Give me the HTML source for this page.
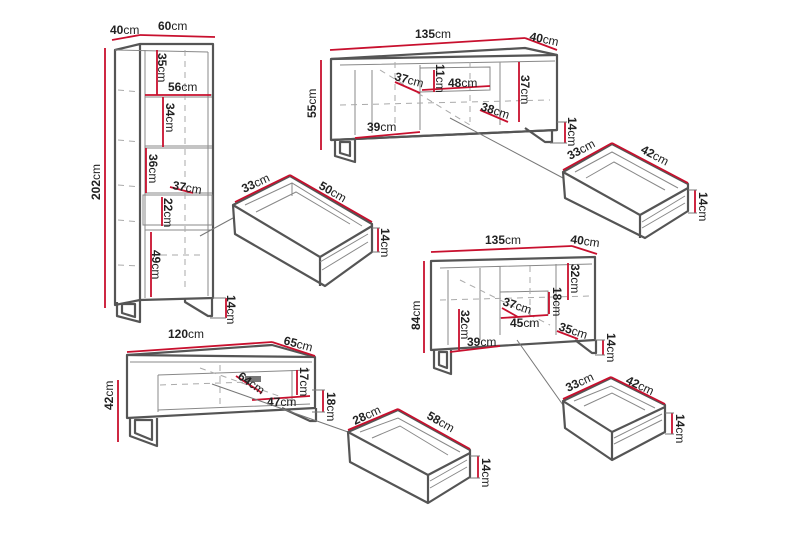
<!DOCTYPE html>
<html><head><meta charset="utf-8"><style>
html,body{margin:0;padding:0;background:#fff;}
svg{display:block}
text{font-family:"Liberation Sans",sans-serif;font-size:12px;fill:#222}
.b{font-weight:bold}
.o{fill:none;stroke:#555;stroke-width:2.2;stroke-linejoin:round}
.t{fill:none;stroke:#888;stroke-width:1}
.d{fill:none;stroke:#aaa;stroke-width:1;stroke-dasharray:6 5}
.r{fill:none;stroke:#c8102e;stroke-width:1.8}
.g{fill:none;stroke:#777;stroke-width:1}
</style></head><body>
<svg width="800" height="533" viewBox="0 0 800 533">
<!-- BOOKCASE -->
<polygon class="o" points="115,50 140,44 213,44 213,298 140,300 115,305"/>
<line class="o" x1="140" y1="44" x2="140" y2="300"/>
<line class="t" x1="115" y1="50" x2="208" y2="52"/>
<line class="t" x1="145" y1="50" x2="145" y2="298"/>
<line class="t" x1="208" y1="52" x2="208" y2="296"/>
<line class="t" x1="145" y1="95" x2="212" y2="95"/><line class="t" x1="145" y1="97" x2="212" y2="97"/>
<line class="t" x1="145" y1="146" x2="212" y2="146"/><line class="t" x1="145" y1="148" x2="212" y2="148"/>
<line class="t" x1="145" y1="193" x2="212" y2="193"/><line class="t" x1="145" y1="195" x2="212" y2="195"/>
<rect class="t" x="143" y="195" width="69" height="30"/>
<line class="t" x1="145" y1="230" x2="212" y2="230"/>
<line class="d" x1="118" y1="90" x2="140" y2="92"/><line class="d" x1="118" y1="140" x2="140" y2="142"/>
<line class="d" x1="118" y1="185" x2="140" y2="187"/><line class="d" x1="118" y1="220" x2="140" y2="222"/>
<line class="d" x1="118" y1="265" x2="140" y2="266"/><line class="d" x1="150" y1="255" x2="205" y2="255"/>
<line class="d" x1="185" y1="50" x2="185" y2="290"/>
<path class="o" d="M117,302 L117,316 L140,322 L140,300 M122,304 L122,313 L135,317 L135,304 Z"/>
<path class="o" d="M185,298 L185,302 L208,316 L212,316 L212,298"/>
<line class="r" x1="112" y1="40" x2="140" y2="35"/><line class="r" x1="140" y1="35" x2="215" y2="37"/>
<line class="r" x1="105" y1="48" x2="105" y2="308"/>
<line class="r" x1="157" y1="50" x2="157" y2="95"/>
<line class="r" x1="145" y1="95" x2="211" y2="95"/>
<line class="r" x1="163" y1="97" x2="163" y2="147"/>
<line class="r" x1="146" y1="148" x2="146" y2="193"/>
<line class="r" x1="170" y1="187" x2="193" y2="193"/>
<line class="r" x1="162" y1="197" x2="162" y2="226"/>
<line class="r" x1="151" y1="232" x2="151" y2="297"/>
<line class="r" x1="226" y1="298" x2="226" y2="318"/><line class="g" x1="213" y1="298" x2="226" y2="298"/><line class="g" x1="210" y1="318" x2="226" y2="318"/>
<text x="110" y="34"><tspan class="b">40</tspan>cm</text>
<text x="158" y="30"><tspan class="b">60</tspan>cm</text>
<text x="168" y="91"><tspan class="b">56</tspan>cm</text>
<text x="172" y="189" transform="rotate(10 172 189)"><tspan class="b">37</tspan>cm</text>
<text transform="translate(158,53) rotate(90)"><tspan class="b">35</tspan>cm</text>
<text transform="translate(166,103) rotate(90)"><tspan class="b">34</tspan>cm</text>
<text transform="translate(149,154) rotate(90)"><tspan class="b">36</tspan>cm</text>
<text transform="translate(164,198) rotate(90)"><tspan class="b">22</tspan>cm</text>
<text transform="translate(152,250) rotate(90)"><tspan class="b">49</tspan>cm</text>
<text transform="translate(227,295) rotate(90)"><tspan class="b">14</tspan>cm</text>
<text transform="translate(100,200) rotate(-90)"><tspan class="b">202</tspan>cm</text>
<line class="g" x1="200" y1="236" x2="233" y2="218"/>

<!-- DRAWER 1 -->
<polygon class="o" points="233,205 290,176 372,224 372,252 325,286 235,234"/>
<path class="o" d="M233,205 L320,257 L320,286 M320,257 L372,226"/>
<path class="t" d="M245,205 L292,183 L362,226 M292,183 L292,196 M256,212 L296,192 L350,224 M320,262 L368,234 M322,270 L368,242"/>
<line class="r" x1="235" y1="202" x2="290" y2="175"/><line class="r" x1="290" y1="175" x2="372" y2="222"/>
<line class="r" x1="378" y1="228" x2="378" y2="252"/><line class="g" x1="372" y1="228" x2="380" y2="228"/><line class="g" x1="372" y1="252" x2="380" y2="252"/>
<text x="244" y="193" transform="rotate(-25 244 193)"><tspan class="b">33</tspan>cm</text>
<text x="318" y="188" transform="rotate(30 318 188)"><tspan class="b">50</tspan>cm</text>
<text transform="translate(381,228) rotate(90)"><tspan class="b">14</tspan>cm</text>

<!-- SIDEBOARD 1 -->
<polygon class="o" points="331,59 525,48 557,55 557,130 331,140"/>
<line class="o" x1="331" y1="59" x2="557" y2="55"/>
<path class="t" d="M340,65 L555,61 M355,70 L355,135 M420,65 L420,130 M500,62 L500,125 M372,70 L372,133 M420,68 L490,67 L490,90 L420,92 Z"/>
<path class="d" d="M340,105 L550,100 M380,70 L470,125 M470,62 L470,122 M395,62 L395,130"/>
<path class="o" d="M335,140 L335,156 L355,162 L355,140 M340,142 L340,153 L350,156 L350,142 Z"/>
<path class="o" d="M525,128 L545,142 L552,142 L552,130"/>
<line class="o" x1="331" y1="140" x2="557" y2="130"/>
<line class="r" x1="330" y1="50" x2="525" y2="38"/><line class="r" x1="525" y1="38" x2="557" y2="50"/>
<line class="r" x1="321" y1="60" x2="321" y2="150"/>
<line class="r" x1="395" y1="82" x2="420" y2="93"/>
<line class="r" x1="434" y1="70" x2="434" y2="92"/>
<line class="r" x1="422" y1="90" x2="490" y2="86"/>
<line class="r" x1="519" y1="62" x2="519" y2="122"/>
<line class="r" x1="480" y1="110" x2="508" y2="122"/>
<line class="r" x1="355" y1="138" x2="420" y2="132"/>
<line class="r" x1="565" y1="122" x2="565" y2="143"/><line class="g" x1="557" y1="122" x2="567" y2="122"/><line class="g" x1="550" y1="143" x2="567" y2="143"/>
<text x="415" y="38"><tspan class="b">135</tspan>cm</text>
<text x="529" y="40" transform="rotate(12 529 40)"><tspan class="b">40</tspan>cm</text>
<text x="394" y="80" transform="rotate(15 394 80)"><tspan class="b">37</tspan>cm</text>
<text x="448" y="87"><tspan class="b">48</tspan>cm</text>
<text x="480" y="110" transform="rotate(18 480 110)"><tspan class="b">38</tspan>cm</text>
<text x="367" y="131"><tspan class="b">39</tspan>cm</text>
<text transform="translate(436,64) rotate(90)"><tspan class="b">11</tspan>cm</text>
<text transform="translate(521,75) rotate(90)"><tspan class="b">37</tspan>cm</text>
<text transform="translate(568,117) rotate(90)"><tspan class="b">14</tspan>cm</text>
<text transform="translate(316,118) rotate(-90)"><tspan class="b">55</tspan>cm</text>
<line class="g" x1="450" y1="118" x2="563" y2="178"/>

<!-- DRAWER 2 -->
<polygon class="o" points="563,172 612,144 688,184 688,211 645,238 565,198"/>
<path class="o" d="M563,172 L640,215 L640,238 M640,215 L688,188"/>
<path class="t" d="M575,172 L612,152 L678,188 M586,178 L614,162 L665,190 M642,222 L685,196 M642,228 L685,203"/>
<line class="r" x1="563" y1="170" x2="612" y2="143"/><line class="r" x1="612" y1="143" x2="688" y2="183"/>
<line class="r" x1="695" y1="190" x2="695" y2="213"/><line class="g" x1="688" y1="190" x2="697" y2="190"/><line class="g" x1="688" y1="213" x2="697" y2="213"/>
<text x="570" y="160" transform="rotate(-28 570 160)"><tspan class="b">33</tspan>cm</text>
<text x="640" y="152" transform="rotate(28 640 152)"><tspan class="b">42</tspan>cm</text>
<text transform="translate(699,192) rotate(90)"><tspan class="b">14</tspan>cm</text>

<!-- SIDEBOARD 2 -->
<polygon class="o" points="431,261 595,257 595,340 431,350"/>
<path class="t" d="M440,268 L592,264 M448,270 L448,345 M480,268 L480,340 M500,266 L500,335 M556,264 L556,335 M500,292 L548,291 L548,315 L500,318 Z"/>
<path class="d" d="M440,300 L590,296 M460,280 L550,325 M530,266 L530,330"/>
<path class="o" d="M434,350 L434,368 L451,374 L451,350 M439,352 L439,365 L447,368 L447,352 Z"/>
<path class="o" d="M575,340 L592,353 L596,353 L596,340"/>
<line class="r" x1="431" y1="252" x2="572" y2="246"/><line class="r" x1="572" y1="246" x2="597" y2="254"/>
<line class="r" x1="424" y1="261" x2="424" y2="353"/>
<line class="r" x1="568" y1="263" x2="568" y2="300"/>
<line class="r" x1="549" y1="292" x2="549" y2="314"/>
<line class="r" x1="502" y1="308" x2="518" y2="317"/>
<line class="r" x1="501" y1="318" x2="548" y2="315"/>
<line class="r" x1="459" y1="309" x2="459" y2="350"/>
<line class="r" x1="450" y1="352" x2="500" y2="346"/>
<line class="r" x1="557" y1="331" x2="578" y2="339"/>
<line class="r" x1="603" y1="340" x2="603" y2="355"/><line class="g" x1="595" y1="340" x2="605" y2="340"/><line class="g" x1="595" y1="355" x2="605" y2="355"/>
<text x="485" y="244"><tspan class="b">135</tspan>cm</text>
<text x="570" y="243" transform="rotate(8 570 243)"><tspan class="b">40</tspan>cm</text>
<text x="502" y="305" transform="rotate(18 502 305)"><tspan class="b">37</tspan>cm</text>
<text x="510" y="327"><tspan class="b">45</tspan>cm</text>
<text x="558" y="330" transform="rotate(18 558 330)"><tspan class="b">35</tspan>cm</text>
<text x="467" y="346"><tspan class="b">39</tspan>cm</text>
<text transform="translate(571,264) rotate(90)"><tspan class="b">32</tspan>cm</text>
<text transform="translate(553,287) rotate(90)"><tspan class="b">18</tspan>cm</text>
<text transform="translate(461,310) rotate(90)"><tspan class="b">32</tspan>cm</text>
<text transform="translate(607,333) rotate(90)"><tspan class="b">14</tspan>cm</text>
<text transform="translate(420,330) rotate(-90)"><tspan class="b">84</tspan>cm</text>
<line class="g" x1="517" y1="340" x2="563" y2="405"/>

<!-- DRAWER 3 -->
<polygon class="o" points="563,401 611,378 665,405 665,432 612,460 565,428"/>
<path class="o" d="M563,401 L612,432 L612,460 M612,432 L665,407"/>
<path class="t" d="M574,401 L611,386 L655,408 M584,406 L612,393 L645,410 M614,438 L662,414 M614,444 L662,420"/>
<line class="r" x1="563" y1="399" x2="611" y2="377"/><line class="r" x1="611" y1="377" x2="665" y2="404"/>
<line class="r" x1="672" y1="413" x2="672" y2="434"/><line class="g" x1="665" y1="413" x2="674" y2="413"/><line class="g" x1="665" y1="434" x2="674" y2="434"/>
<text x="568" y="392" transform="rotate(-25 568 392)"><tspan class="b">33</tspan>cm</text>
<text x="625" y="383" transform="rotate(25 625 383)"><tspan class="b">42</tspan>cm</text>
<text transform="translate(676,414) rotate(90)"><tspan class="b">14</tspan>cm</text>

<!-- COFFEE TABLE -->
<polygon class="o" points="127,355 272,345 315,357 315,408 127,418"/>
<line class="o" x1="127" y1="355" x2="315" y2="357"/>
<path class="t" d="M130,362 L312,362 M158,375 L310,370 M158,375 L158,412 M158,410 L310,404 M292,370 L292,404"/>
<path class="d" d="M160,385 L250,382 M200,368 L290,400 M220,365 L220,405"/>
<rect x="245" y="376" width="16" height="6" fill="#777"/>
<path class="o" d="M130,418 L130,436 L157,446 L157,418 M135,420 L135,433 L152,440 L152,420 Z"/>
<path class="o" d="M282,408 L310,421 L316,421 L316,408"/>
<line class="r" x1="127" y1="352" x2="272" y2="342"/><line class="r" x1="272" y1="342" x2="315" y2="356"/>
<line class="r" x1="118" y1="380" x2="118" y2="442"/>
<line class="r" x1="236" y1="376" x2="262" y2="393"/>
<line class="r" x1="297" y1="370" x2="297" y2="395"/>
<line class="r" x1="252" y1="400" x2="310" y2="396"/>
<line class="r" x1="323" y1="390" x2="323" y2="412"/><line class="g" x1="312" y1="390" x2="325" y2="390"/><line class="g" x1="312" y1="412" x2="325" y2="412"/>
<text x="168" y="338"><tspan class="b">120</tspan>cm</text>
<text x="283" y="344" transform="rotate(15 283 344)"><tspan class="b">65</tspan>cm</text>
<text x="237" y="378" transform="rotate(35 237 378)"><tspan class="b">64</tspan>cm</text>
<text x="267" y="406"><tspan class="b">47</tspan>cm</text>
<text transform="translate(300,367) rotate(90)"><tspan class="b">17</tspan>cm</text>
<text transform="translate(327,392) rotate(90)"><tspan class="b">18</tspan>cm</text>
<text transform="translate(113,410) rotate(-90)"><tspan class="b">42</tspan>cm</text>
<line class="g" x1="212" y1="384" x2="348" y2="432"/>

<!-- DRAWER 4 -->
<polygon class="o" points="348,432 398,410 470,450 470,477 428,503 350,462"/>
<path class="o" d="M348,432 L428,475 L428,503 M428,475 L470,453"/>
<path class="t" d="M360,432 L398,418 L460,452 M372,438 L400,426 L448,455 M430,481 L467,460 M430,488 L467,467"/>
<line class="r" x1="348" y1="430" x2="398" y2="409"/><line class="r" x1="398" y1="409" x2="470" y2="449"/>
<line class="r" x1="478" y1="456" x2="478" y2="478"/><line class="g" x1="470" y1="456" x2="480" y2="456"/><line class="g" x1="470" y1="478" x2="480" y2="478"/>
<text x="355" y="425" transform="rotate(-25 355 425)"><tspan class="b">28</tspan>cm</text>
<text x="426" y="418" transform="rotate(30 426 418)"><tspan class="b">58</tspan>cm</text>
<text transform="translate(482,458) rotate(90)"><tspan class="b">14</tspan>cm</text>
</svg>
</body></html>
